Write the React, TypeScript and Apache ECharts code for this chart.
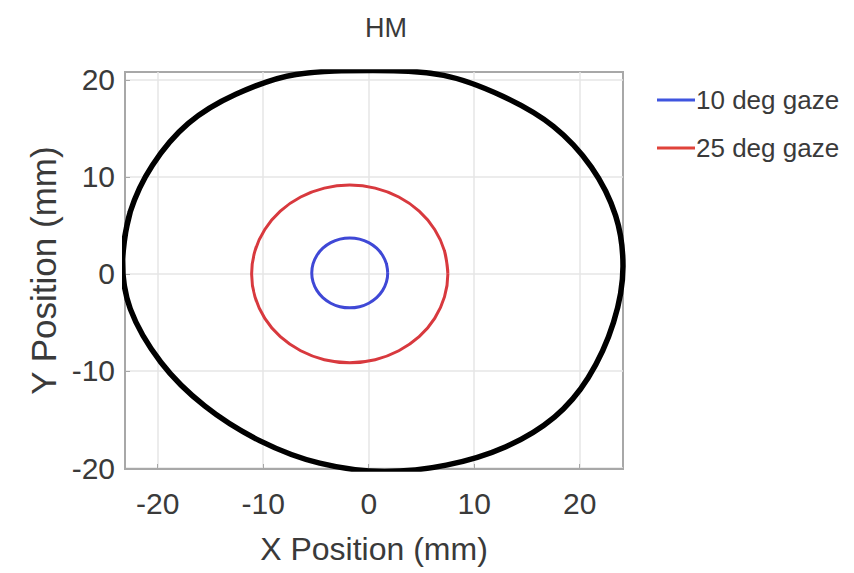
import React, { useEffect, useRef } from 'react';
import * as echarts from 'echarts';

const chartTitle = 'HM';
const xAxisName = 'X Position (mm)';
const yAxisName = 'Y Position (mm)';
const xTickValues = [-20, -10, 0, 10, 20];
const yTickValues = [-20, -10, 0, 10, 20];
const seriesNames = ['10 deg gaze', '25 deg gaze'];

// Outer (black) boundary, clockwise from the left
const boundaryPoints: [number, number][] = [
  [-23.35, 1.5], [-22.6, 6.4], [-20.5, 11.2], [-17.1, 15.5], [-12.6, 18.5],
  [-6.9, 20.55], [0.4, 20.95], [7.1, 20.45], [12.7, 18.3], [17.5, 15.2],
  [21.1, 11.0], [23.4, 6.0], [24.1, 0.8], [23.2, -5.0], [20.8, -10.7],
  [17.6, -14.75], [13.0, -17.8], [7.35, -19.7], [1.5, -20.35], [-4.65, -19.5],
  [-10.3, -17.2], [-15.55, -13.6], [-19.7, -9.1], [-22.6, -3.6],
];

// 10 deg gaze (blue)
const gaze10Points: [number, number][] = [
  [1.8, 0.1], [1.68, 1.03], [1.32, 1.9], [0.75, 2.65], [0.0, 3.22], [-0.87, 3.58],
  [-1.8, 3.7], [-2.73, 3.58], [-3.6, 3.22], [-4.35, 2.65], [-4.92, 1.9], [-5.28, 1.03],
  [-5.4, 0.1], [-5.28, -0.83], [-4.92, -1.7], [-4.35, -2.45], [-3.6, -3.02], [-2.73, -3.38],
  [-1.8, -3.5], [-0.87, -3.38], [0.0, -3.02], [0.75, -2.45], [1.32, -1.7], [1.68, -0.83],
];

// 25 deg gaze (red)
const gaze25Points: [number, number][] = [
  [7.5, 0.0], [7.18, 2.37], [6.25, 4.58], [4.78, 6.47], [2.85, 7.92], [0.61, 8.84],
  [-1.8, 9.15], [-4.21, 8.84], [-6.45, 7.92], [-8.38, 6.47], [-9.85, 4.58], [-10.78, 2.37],
  [-11.1, 0.0], [-10.78, -2.37], [-9.85, -4.58], [-8.38, -6.47], [-6.45, -7.92], [-4.21, -8.84],
  [-1.8, -9.15], [0.61, -8.84], [2.85, -7.92], [4.78, -6.47], [6.25, -4.58], [7.18, -2.37],
];

const closeLoop = (pts: [number, number][]) => [...pts, pts[0], pts[1]];

const FONT = '"Liberation Sans", Arial, Helvetica, sans-serif';
const TEXT_COLOR = '#3a3a3a';
const AXIS_COLOR = '#a8a8a8';

export default function App() {
  const ref = useRef<HTMLDivElement>(null);
  useEffect(() => {
    if (!ref.current) return;
    const chart = echarts.init(ref.current, undefined, { renderer: 'svg' });
    const axisCommon = {
      type: 'value' as const,
      nameLocation: 'middle' as const,
      axisLine: { show: true, onZero: false, lineStyle: { color: AXIS_COLOR, width: 2 } },
      splitLine: { show: true, lineStyle: { color: '#e6e6e6', width: 1.5 } },
    };
    chart.setOption({
      animation: false,
      backgroundColor: '#ffffff',
      title: {
        text: chartTitle,
        left: 381,
        top: 9,
        textAlign: 'center',
        textStyle: { fontFamily: FONT, fontSize: 27, fontWeight: 'normal', color: TEXT_COLOR },
      },
      legend: {
        data: seriesNames,
        orient: 'vertical',
        left: 652,
        top: 82,
        itemWidth: 38,
        itemHeight: 3,
        itemGap: 22,
        icon: 'rect',
        textStyle: { fontFamily: FONT, fontSize: 26, color: TEXT_COLOR, padding: [0, 0, 0, -4] },
      },
      grid: {
        left: 125,
        top: 72,
        right: 231,
        bottom: 104,
        show: true,
        borderColor: AXIS_COLOR,
        borderWidth: 2,
        backgroundColor: 'transparent',
      },
      xAxis: {
        ...axisCommon,
        min: -23.1,
        max: 24.1,
        name: xAxisName,
        nameGap: 64,
        nameTextStyle: { fontFamily: FONT, fontSize: 32, color: TEXT_COLOR },
        axisTick: { show: true, inside: true, length: 5, customValues: xTickValues, lineStyle: { color: AXIS_COLOR } },
        axisLabel: { customValues: xTickValues, fontFamily: FONT, fontSize: 30, color: TEXT_COLOR, margin: 19 },
      },
      yAxis: {
        ...axisCommon,
        min: -20.1,
        max: 20.8,
        name: yAxisName,
        nameGap: 60,
        nameTextStyle: { fontFamily: FONT, fontSize: 35, color: TEXT_COLOR },
        axisTick: { show: true, inside: true, length: 5, customValues: yTickValues, lineStyle: { color: AXIS_COLOR } },
        axisLabel: { customValues: yTickValues, fontFamily: FONT, fontSize: 30, color: TEXT_COLOR, margin: 10 },
      },
      series: [
        {
          name: 'boundary',
          type: 'line',
          data: closeLoop(boundaryPoints),
          smooth: 0.35,
          symbol: 'none',
          lineStyle: { color: '#000000', width: 5.5 },
          itemStyle: { color: '#000000' },
          silent: true,
        },
        {
          name: seriesNames[0],
          type: 'line',
          data: closeLoop(gaze10Points),
          smooth: 0.35,
          symbol: 'none',
          lineStyle: { color: '#3f48d6', width: 3 },
          itemStyle: { color: '#3f55df' },
        },
        {
          name: seriesNames[1],
          type: 'line',
          data: closeLoop(gaze25Points),
          smooth: 0.35,
          symbol: 'none',
          lineStyle: { color: '#d8393e', width: 3 },
          itemStyle: { color: '#e0433a' },
        },
      ],
    });
    return () => chart.dispose();
  }, []);
  return <div ref={ref} style={{ width: 854, height: 573, position: 'absolute', left: 0, top: 0 }} />;
}
